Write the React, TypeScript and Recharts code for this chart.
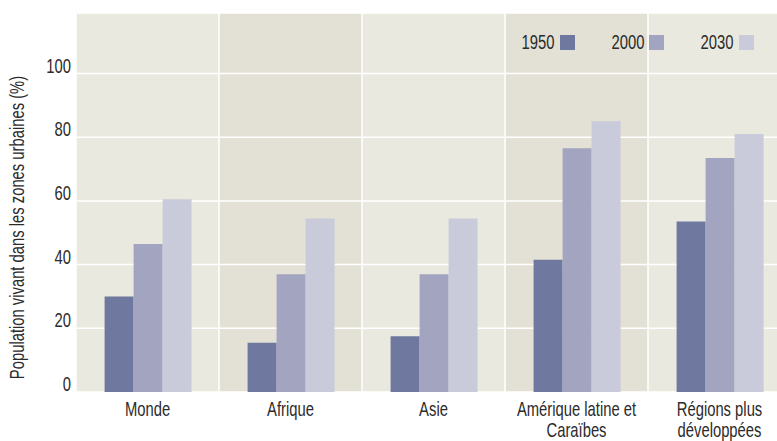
import React from 'react';
import { BarChart, Bar, XAxis, YAxis, CartesianGrid, Legend } from 'recharts';

const regions = ['Monde', 'Afrique', 'Asie', 'Amérique latine et\nCaraïbes', 'Régions plus\ndéveloppées'];
const urban1950 = [30, 15.5, 17.5, 41.5, 53.5];
const urban2000 = [46.5, 37, 37, 76.5, 73.5];
const urban2030 = [60.5, 54.5, 54.5, 85, 81];
const yTicks = [0, 20, 40, 60, 80, 100];

// no condensed face installed, so squeeze Liberation Sans to get the tall narrow look
const FONT = '"Liberation Sans", Arial, sans-serif';
const FS = 20;
const SQUEEZE = 0.74;
const TEXT = '#2b2b2b';

const data = regions.map((region, i) => ({
  region,
  y1950: urban1950[i],
  y2000: urban2000[i],
  y2030: urban2030[i],
}));

const XTick = (props: any) => {
  const { x, y, payload } = props;
  const lines = String(payload.value).split('\n');
  return (
    <text
      transform={`translate(${x} ${y}) scale(${SQUEEZE} 1)`}
      textAnchor="middle"
      fill={TEXT}
      fontSize={FS}
      fontFamily={FONT}
    >
      {lines.map((l, i) => (
        <tspan key={i} x={0} dy={i === 0 ? 24 : 21}>{l}</tspan>
      ))}
    </text>
  );
};

const YTick = (props: any) => {
  const { x, y, payload } = props;
  return (
    <text
      transform={`translate(${x} ${y - 1}) scale(${SQUEEZE} 1)`}
      textAnchor="end"
      fill={TEXT}
      fontSize={FS}
      fontFamily={FONT}
    >
      {payload.value}
    </text>
  );
};

// rotated axis title, sits a bit below the middle of the plot
const YLabel = (props: any) => {
  const { viewBox } = props;
  const cx = viewBox.x + 24;
  const cy = viewBox.y + viewBox.height / 2 + 25;
  return (
    <text
      transform={`translate(${cx} ${cy}) rotate(-90) scale(${SQUEEZE} 1)`}
      textAnchor="middle"
      fill={TEXT}
      fontSize={FS}
      fontFamily={FONT}
    >
      Population vivant dans les zones urbaines (%)
    </text>
  );
};

const LegendContent = (props: any) => (
  <div style={{ display: 'flex', gap: 25, fontFamily: FONT, fontSize: FS, color: TEXT }}>
    {(props.payload || []).map((item: any) => (
      <div key={item.value} style={{ display: 'flex', alignItems: 'center', gap: 5 }}>
        <span
          style={{
            lineHeight: '15px',
            display: 'inline-block',
            transform: `scaleX(${SQUEEZE})`,
            transformOrigin: 'right center',
          }}
        >
          {item.value}
        </span>
        <span style={{ width: 15, height: 15, background: item.color, display: 'inline-block' }} />
      </div>
    ))}
  </div>
);

export default function App() {
  return (
    <div style={{ width: 777, height: 441, overflow: 'hidden', position: 'relative', background: '#fff' }}>
      <style>{'body { margin: 0; }'}</style>
      <BarChart
        width={791}
        height={441}
        data={data}
        margin={{ top: 13, right: 0, bottom: 0, left: 0 }}
        barGap={0}
        barCategoryGap="20%"
      >
        <CartesianGrid
          stroke="#ffffff"
          strokeWidth={1.5}
          verticalFill={['#eae9df', '#e3e1d5']}
          fillOpacity={1}
          verticalCoordinatesGenerator={({ offset }: any) =>
            regions.map((_, i) => offset.left + (i * offset.width) / regions.length)
          }
        />
        <XAxis
          dataKey="region"
          height={49}
          axisLine={false}
          tickLine={false}
          tickSize={0}
          tickMargin={0}
          interval={0}
          tick={<XTick />}
        />
        <YAxis
          width={76}
          domain={[0, 119]}
          ticks={yTicks}
          axisLine={false}
          tickLine={false}
          tickSize={0}
          tickMargin={5}
          tick={<YTick />}
          label={{ content: (p: any) => <YLabel {...p} /> }}
        />
        <Legend
          layout="horizontal"
          verticalAlign="middle"
          align="center"
          content={<LegendContent />}
          wrapperStyle={{ top: 35, left: 510, width: 'auto' }}
        />
        <Bar dataKey="y1950" name="1950" fill="#6f789e" isAnimationActive={false} />
        <Bar dataKey="y2000" name="2000" fill="#a2a4c0" isAnimationActive={false} />
        <Bar dataKey="y2030" name="2030" fill="#c9cbda" isAnimationActive={false} />
      </BarChart>
    </div>
  );
}
